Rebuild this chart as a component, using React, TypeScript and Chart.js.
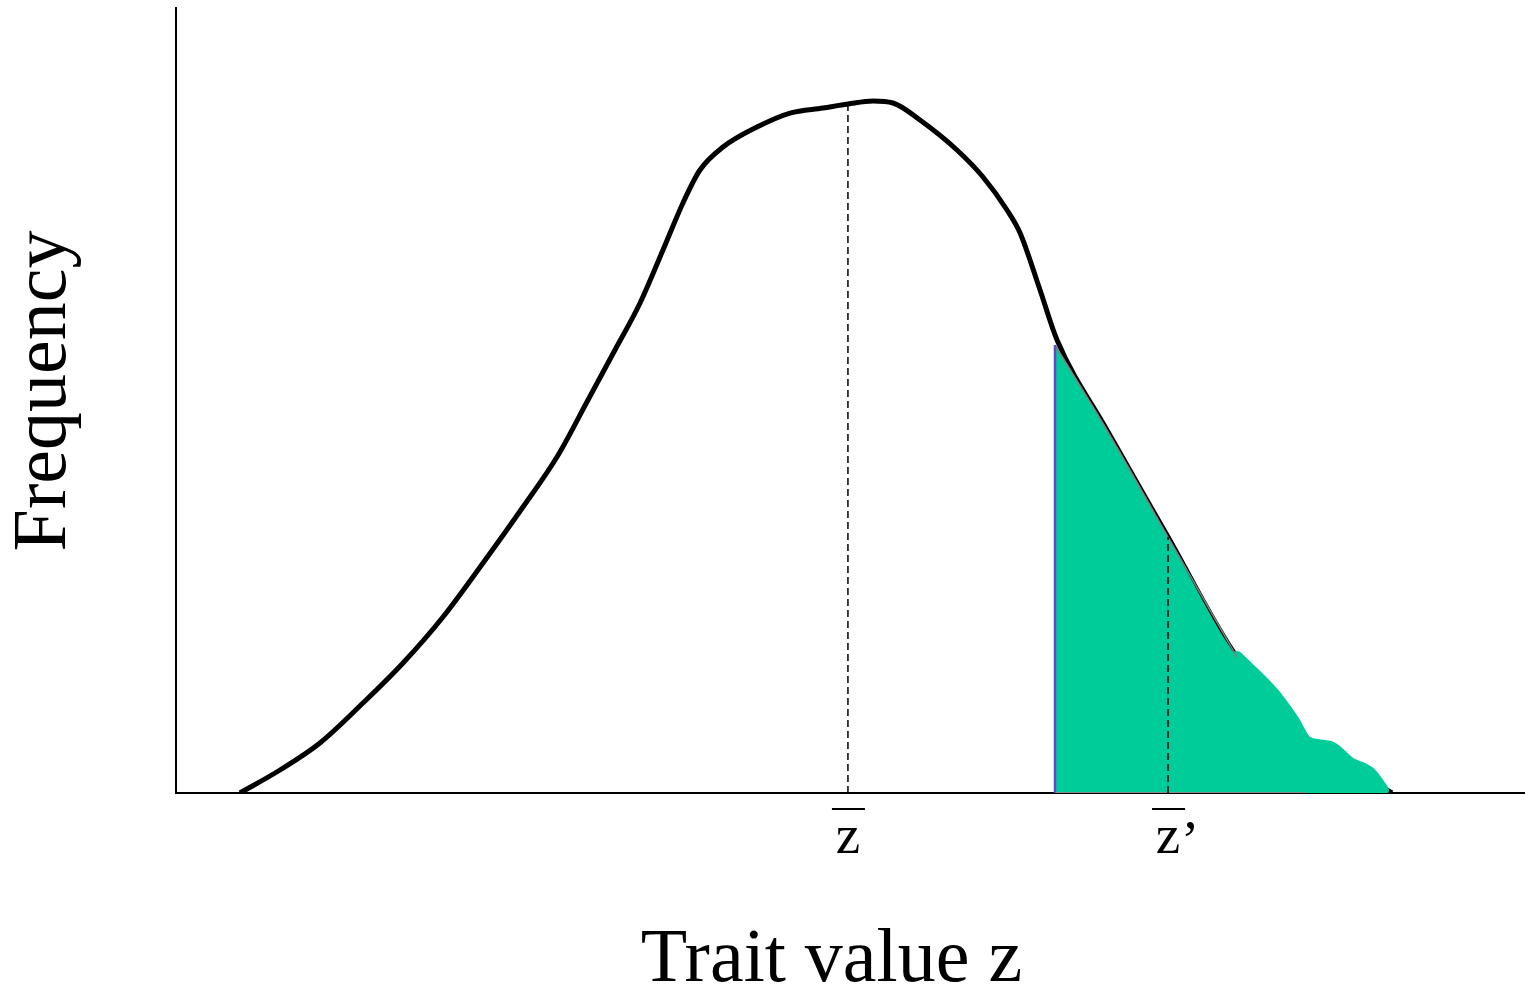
import React, { useEffect, useRef } from "react";
import { Chart, registerables } from "chart.js";

Chart.register(...registerables);

// Trait-value density curve (x in trait units 0..100, y in frequency units 0..100)
const CURVE_X = [4.74, 7.71, 10.67, 13.86, 16.83, 19.79, 22.76, 25.72, 28.24, 30.54, 32.54, 34.4, 36.1, 37.58, 38.84, 40.55, 43.07, 45.52, 47.96, 49.81, 51.67, 53.15, 55.15, 57.89, 59.82, 61.6, 62.57, 64.05, 65.31, 69.01, 73.54, 78.65, 80.36, 83.84, 87.03, 90.14];
const CURVE_Y = [0, 2.93, 6.37, 11.46, 16.56, 22.42, 29.3, 36.43, 42.8, 50.06, 56.43, 62.42, 69.17, 75.16, 79.36, 82.29, 84.84, 86.62, 87.26, 87.77, 88.15, 87.9, 85.73, 81.91, 78.47, 74.27, 71.34, 64.08, 57.71, 46.24, 32.61, 17.32, 14.14, 6.75, 3.18, 0];

// Selected (truncated) part of the distribution
const SEL_X = [65.16, 69.01, 73.54, 78.65];
const SEL_Y = [57.07, 46.24, 32.61, 17.32];
const TAIL_X = [78.65, 81.32, 82.8, 83.84, 85.55, 87.03, 88.51, 89.47];
const TAIL_Y = [17.32, 12.74, 9.3, 6.5, 5.86, 3.82, 2.55, 0.38];

// Means
const ZBAR = 49.81;
const ZBAR_TOP = 87.77;
const ZBAR_SEL = 73.54;
const ZBAR_SEL_TOP = 32.61;
const CUT = 65.16;
const CUT_TOP = 57.07;
const BASE_END = 83.8;

const TICK_VALUES = [ZBAR, ZBAR_SEL];
const TICK_LABELS = ["z", "z"];
const X_TITLE = "Trait value z";
const Y_TITLE = "Frequency";

const FONT = "'Liberation Serif', 'Times New Roman', serif";
const GREEN = "#00CC99";

const zip = (xs: number[], ys: number[]) => xs.map((x, i) => ({ x, y: ys[i] }));

const overlinePlugin = {
  id: "overlines",
  afterDraw(chart: any) {
    const xs = chart.scales.x;
    const ctx = chart.ctx;
    ctx.save();
    ctx.strokeStyle = "#000";
    ctx.lineWidth = 2;
    TICK_VALUES.forEach((v) => {
      const px = xs.getPixelForValue(v);
      ctx.beginPath();
      ctx.moveTo(px - 16, xs.top + 16);
      ctx.lineTo(px + 17, xs.top + 16);
      ctx.stroke();
    });
    const px2 = xs.getPixelForValue(ZBAR_SEL);
    ctx.fillStyle = "#000";
    ctx.font = `55px ${FONT}`;
    ctx.textAlign = "left";
    ctx.textBaseline = "alphabetic";
    ctx.fillText("\u2019", px2 + 13, xs.top + 65);
    ctx.restore();
  },
};

export default function App() {
  const ref = useRef<HTMLCanvasElement | null>(null);

  useEffect(() => {
    if (!ref.current) return;
    const chart = new Chart(ref.current, {
      type: "line",
      data: {
        datasets: [
          {
            label: "dashed zbar",
            data: [{ x: ZBAR, y: 0 }, { x: ZBAR, y: ZBAR_TOP }],
            borderColor: "#000",
            borderWidth: 1.5,
            borderDash: [7, 4],
            pointRadius: 0,
            order: 1,
          },
          {
            label: "dashed zbar'",
            data: [{ x: ZBAR_SEL, y: 0 }, { x: ZBAR_SEL, y: ZBAR_SEL_TOP }],
            borderColor: "#000",
            borderWidth: 1.5,
            borderDash: [7, 4],
            pointRadius: 0,
            order: 1,
          },
          {
            label: "cut",
            data: [{ x: CUT, y: 0 }, { x: CUT, y: CUT_TOP }],
            borderColor: "#4f4fd0",
            borderWidth: 2.5,
            pointRadius: 0,
            order: 3,
          },
          {
            label: "sel edge",
            data: zip(SEL_X, SEL_Y),
            borderColor: "#808080",
            borderWidth: 1.5,
            pointRadius: 0,
            cubicInterpolationMode: "monotone",
            order: 4,
          },
          {
            label: "sel base",
            data: [{ x: CUT, y: 0 }, { x: BASE_END, y: 0 }],
            borderColor: "#8a8a8a",
            borderWidth: 2,
            pointRadius: 0,
            order: 4,
          },
          {
            label: "tail",
            data: zip(TAIL_X, TAIL_Y),
            borderColor: GREEN,
            borderWidth: 12,
            borderCapStyle: "round",
            borderJoinStyle: "round",
            pointRadius: 0,
            cubicInterpolationMode: "monotone",
            order: 5,
          },
          {
            label: "selected",
            data: zip(SEL_X.concat(TAIL_X.slice(1)), SEL_Y.concat(TAIL_Y.slice(1))),
            borderWidth: 0,
            backgroundColor: GREEN,
            fill: "origin",
            pointRadius: 0,
            cubicInterpolationMode: "monotone",
            order: 6,
          },
          {
            label: "density",
            data: zip(CURVE_X, CURVE_Y),
            borderColor: "#000",
            borderWidth: 5,
            pointRadius: 0,
            cubicInterpolationMode: "monotone",
            order: 10,
          },
        ],
      },
      options: {
        animation: false,
        responsive: false,
        devicePixelRatio: 1,
        layout: { padding: { top: 8, right: 0, left: 0, bottom: 0 } },
        plugins: { legend: { display: false }, tooltip: { enabled: false } },
        scales: {
          x: {
            type: "linear",
            min: 0,
            max: 100,
            grid: { display: false, drawTicks: false },
            border: { display: true, color: "#000", width: 2 },
            afterBuildTicks: (s: any) => {
              s.ticks = TICK_VALUES.map((v) => ({ value: v }));
            },
            afterFit: (s: any) => {
              s.height = 201;
            },
            ticks: {
              autoSkip: false,
              maxRotation: 0,
              padding: 13,
              color: "#000",
              font: { family: FONT, size: 55 },
              callback: (_v: any, i: number) => TICK_LABELS[i],
            },
            title: {
              display: true,
              text: X_TITLE + "  ",
              color: "#000",
              font: { family: FONT, size: 76 },
              padding: { top: 0, bottom: -13 },
            },
          },
          y: {
            type: "linear",
            min: 0,
            max: 100,
            grid: { display: false, drawTicks: false },
            border: { display: true, color: "#000", width: 2 },
            ticks: { display: false },
            afterFit: (s: any) => {
              s.width = 176;
            },
            title: {
              display: true,
              text: " " + Y_TITLE,
              color: "#000",
              font: { family: FONT, size: 76 },
              padding: { top: -1, bottom: 0 },
            },
          },
        },
      },
      plugins: [overlinePlugin],
    } as any);
    return () => chart.destroy();
  }, []);

  return (
    <div style={{ position: "absolute", left: 0, top: 0, width: 1525, height: 994, background: "#fff" }}>
      <canvas ref={ref} width={1525} height={994} />
    </div>
  );
}
